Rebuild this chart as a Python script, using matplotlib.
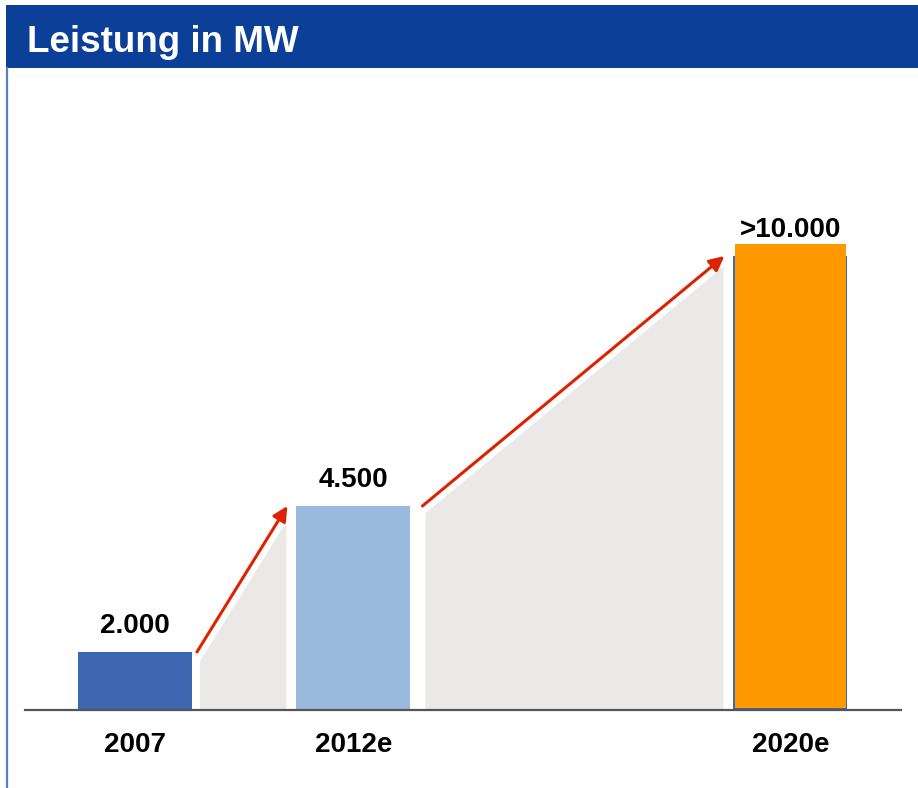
import numpy as np
import matplotlib.pyplot as plt
from matplotlib.patches import Rectangle, Polygon
from matplotlib.lines import Line2D

plt.rcParams['font.family'] = ['Liberation Sans', 'DejaVu Sans']

# data (bar heights, the chart is not drawn to scale)
years = ['2007', '2012e', '2020e']
value_labels = ['2.000', '4.500', '>10.000']
bar_heights = [1245, 4378, 9742]
top_height = 10000  # orange overlay on the 2020e bar
x_pos = [0, 1, 3]

bar_colors = ['#3d67b0', '#99badd', '#3d67b0']
header_color = '#0c3f97'
gray = '#eae9e7'
red = '#dd2200'
orange = '#ff9900'

W, H = 918, 788
fig = plt.figure(figsize=(W / 100, H / 100), dpi=100)

# header band + frame
fig.add_artist(Rectangle((6 / W, 1 - 68 / H), 1 - 6 / W, 63 / H,
                         transform=fig.transFigure, color=header_color, lw=0))
fig.add_artist(Line2D([6.5 / W, 6.5 / W], [0, 1 - 68 / H], transform=fig.transFigure,
                      color='#5b7fc7', lw=1.6))
fig.text(27 / W, 1 - 52 / H, 'Leistung in MW', color='white', fontsize=26.5,
         fontweight='bold', va='baseline', ha='left')

ax = fig.add_axes([25 / W, 78 / H, 876 / W, 642 / H])
xmin, xmax = -0.503, 3.506
ymax = 10000 * 642 / 466
ax.set_xlim(xmin, xmax)
ax.set_ylim(0, ymax)
ax.axis('off')
sx = (xmax - xmin) / 876  # x units per pixel
sy = ymax / 642           # y units per pixel
bw = 0.522
start_gap = [5, 12]  # pixels between bar edge and arrow start

# gray wedges and red arrows between the bars
for i in range(len(x_pos) - 1):
    xs = x_pos[i] + bw / 2 + start_gap[i] * sx
    xe = x_pos[i + 1] - bw / 2 - 9 * sx
    ys, ye = bar_heights[i], bar_heights[i + 1]
    m = ((ye - ys) / sy) / ((xe - xs) / sx)
    off = 7.5 * np.sqrt(1 + m * m) * sy
    g0 = xs + 3 * sx
    g1 = xe - 1 * sx
    def line_y(x):
        return ys + (ye - ys) * (x - xs) / (xe - xs) - off
    ax.add_patch(Polygon([(g0, 0), (g0, line_y(g0)), (g1, line_y(g1)), (g1, 0)],
                         closed=True, color=gray, lw=0, zorder=1))
    ax.annotate('', xy=(xe, ye), xytext=(xs, ys),
                arrowprops=dict(arrowstyle='-|>', color=red, lw=2.2,
                                mutation_scale=22, shrinkA=0, shrinkB=0),
                zorder=3)

# bars
ax.bar(x_pos, bar_heights, width=bw, color=bar_colors, zorder=2)
ax.bar(x_pos[2], top_height - 2 * sy, bottom=2 * sy, width=bw - 3 * sx,
       color=orange, zorder=2)

# value labels
for x, h, lab in zip(x_pos, bar_heights, value_labels):
    ax.text(x, h + 19 * sy, lab, ha='center', va='baseline', fontsize=20,
            fontweight='bold', color='black')

# category labels
for x, lab in zip(x_pos, years):
    ax.text(x, -42 * sy, lab, ha='center', va='baseline', fontsize=20,
            fontweight='bold', color='black', clip_on=False)

# baseline
ax.plot([xmin, xmax], [0, 0], color='#555555', lw=1.6, clip_on=False, zorder=4)

fig.savefig('out.png', dpi=100)
